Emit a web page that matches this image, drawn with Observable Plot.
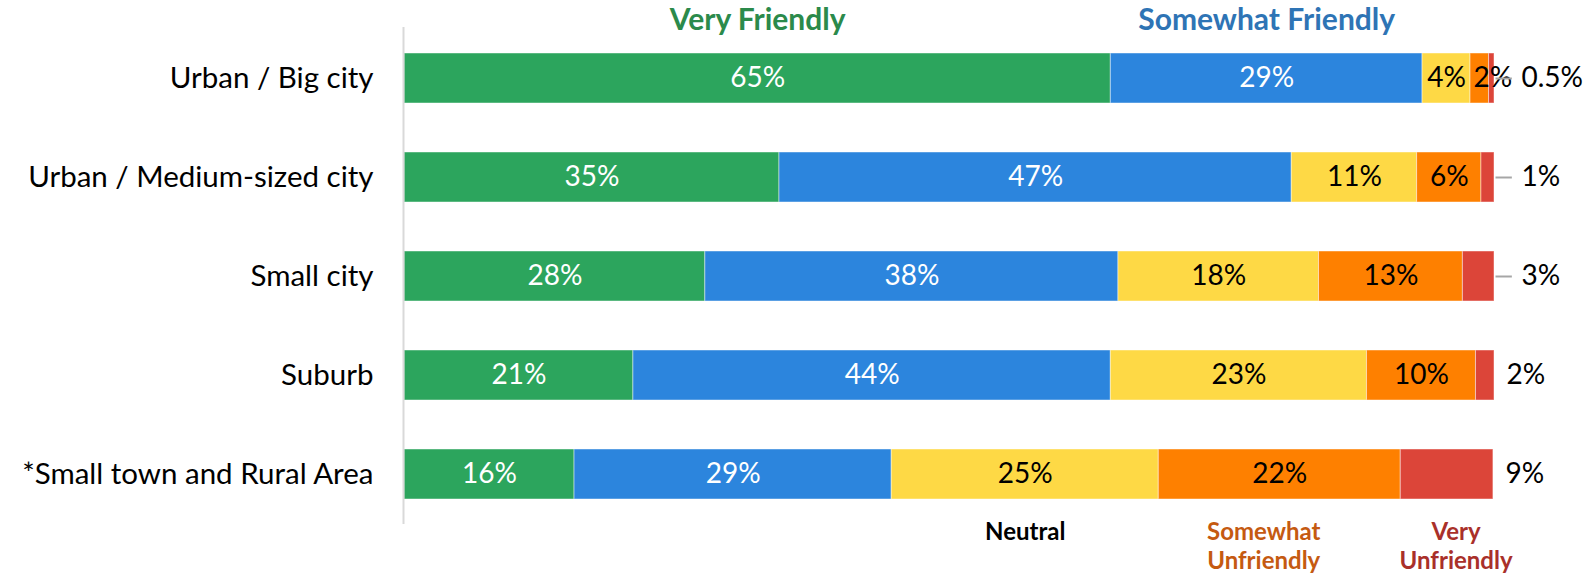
<!DOCTYPE html>
<html><head><meta charset="utf-8">
<script src="https://cdn.jsdelivr.net/npm/d3@7"></script>
<script src="https://cdn.jsdelivr.net/npm/@observablehq/plot@0.6"></script>
<style>body{margin:0;background:#fff;} #chart svg{display:block;}</style>
</head><body><div id="chart"></div>
<script>
const categories = ["Urban / Big city", "Urban / Medium-sized city", "Small city", "Suburb", "*Small town and Rural Area"];
const responses = ["Very Friendly", "Somewhat Friendly", "Neutral", "Somewhat Unfriendly", "Very Unfriendly"];
const headerText = ["Very Friendly", "Somewhat Friendly", "Neutral", "Somewhat\nUnfriendly", "Very\nUnfriendly"];

const veryFriendly       = [64.8, 34.4, 27.6, 21.0, 15.6];
const somewhatFriendly   = [28.6, 47.0, 37.9, 43.8, 29.1];
const neutral            = [4.4, 11.5, 18.4, 23.5, 24.5];
const somewhatUnfriendly = [1.7, 5.9, 13.2, 10.0, 22.2];
const veryUnfriendly     = [0.5, 1.2, 2.9, 1.7, 8.5];

const veryFriendlyLabels       = ["65%", "35%", "28%", "21%", "16%"];
const somewhatFriendlyLabels   = ["29%", "47%", "38%", "44%", "29%"];
const neutralLabels            = ["4%", "11%", "18%", "23%", "25%"];
const somewhatUnfriendlyLabels = ["2%", "6%", "13%", "10%", "22%"];
const veryUnfriendlyLabels     = ["0.5%", "1%", "3%", "2%", "9%"];
const hasLeader = [true, true, true, false, false];

const series = [veryFriendly, somewhatFriendly, neutral, somewhatUnfriendly, veryUnfriendly];
const labels = [veryFriendlyLabels, somewhatFriendlyLabels, neutralLabels, somewhatUnfriendlyLabels, veryUnfriendlyLabels];

const barColors = ["#2ca55d", "#2c85dd", "#fed945", "#fe8000", "#dc4539"];
const textColors = ["white", "white", "black", "black", "black"];
const headerColors = ["#2b8a4b", "#2e74b5", "#000000", "#c55a11", "#a9302a"];

const rows = [];
categories.forEach((c, i) => {
  let acc = 0;
  series.forEach((s, j) => {
    rows.push({cat: c, ci: i, ri: j, resp: responses[j], x1: acc, x2: acc + s[i], label: labels[j][i]});
    acc += s[i];
  });
});
const totals = categories.map((c, i) => ({cat: c, ci: i, total: d3.sum(series, s => s[i]), label: veryUnfriendlyLabels[i], leader: hasLeader[i]}));

const inside = rows.filter(d => d.ri < 4);
const wideInside = inside.filter(d => d.x2 - d.x1 >= 3);
const narrowInside = inside.filter(d => d.x2 - d.x1 < 3);

const topHeaders = rows.filter(d => d.ci === 0 && d.ri < 2);
const bottomHeaders = rows.filter(d => d.ci === categories.length - 1 && d.ri >= 2);
const bottomDx = {2: 0, 3: -16, 4: 9};

const font = "Lato, 'Open Sans', sans-serif";

const chart = Plot.plot({
  width: 1591,
  height: 576,
  marginLeft: 404,
  marginRight: 97,
  marginTop: 27,
  marginBottom: 52,
  style: {fontFamily: font, background: "white", color: "black"},
  x: {domain: [0, 100], axis: null},
  y: {domain: categories, paddingInner: 0.5, paddingOuter: 0.25, axis: null},
  marks: [
    Plot.barX(rows, {x1: "x1", x2: "x2", y: "cat", fill: d => barColors[d.ri], stroke: "white", strokeOpacity: 0.45, strokeWidth: 1}),
    Plot.ruleX([0], {stroke: "#d9d9d9", strokeWidth: 2, dx: -1}),
    Plot.axisY({tickSize: 0, tickPadding: 31, fontSize: 29.5, label: null, fill: "black"}),
    Plot.text(wideInside, {x: d => (d.x1 + d.x2) / 2, y: "cat", text: "label", fill: d => textColors[d.ri], fontSize: 28}),
    Plot.text(narrowInside, {x: "x1", y: "cat", text: "label", fill: d => textColors[d.ri], fontSize: 28, textAnchor: "start", dx: 3}),
    Plot.ruleY(totals.filter(d => d.leader), {x1: "total", x2: d => d.total + 1.5, y: "cat", stroke: "#a6a6a6", strokeWidth: 2, dx: 1.5}),
    Plot.text(totals.filter(d => d.leader), {x: "total", y: "cat", text: "label", fontSize: 28, textAnchor: "start", dx: 27, fill: "black"}),
    Plot.text(totals.filter(d => !d.leader), {x: "total", y: "cat", text: "label", fontSize: 28, textAnchor: "start", dx: 12, fill: "black"}),
    Plot.text(topHeaders, {x: d => (d.x1 + d.x2) / 2, y: "cat", text: d => headerText[d.ri], fill: d => headerColors[d.ri], fontSize: 30, fontWeight: "bold", dy: -58}),
    ...[2, 3, 4].map(r => Plot.text(bottomHeaders.filter(d => d.ri === r), {x: d => (d.x1 + d.x2) / 2, y: "cat", text: d => headerText[d.ri], fill: d => headerColors[d.ri], fontSize: 24, fontWeight: "bold", lineAnchor: "top", lineHeight: 1.2, dy: 45, dx: bottomDx[r]}))
  ]
});
document.getElementById("chart").appendChild(chart);
</script>
</body></html>
